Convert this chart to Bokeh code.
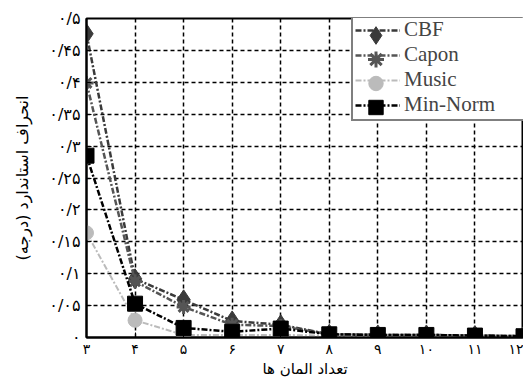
from bokeh.plotting import figure
from bokeh.models import FixedTicker, Range1d, Legend, LegendItem
from bokeh.embed import file_html
from bokeh.resources import INLINE

elements = [3, 4, 5, 6, 7, 8, 9, 10, 11, 12]
cbf = [0.476, 0.092, 0.059, 0.026, 0.020, 0.005, 0.004, 0.004, 0.003, 0.002]
capon = [0.399, 0.088, 0.048, 0.020, 0.018, 0.005, 0.004, 0.004, 0.003, 0.002]
music = [0.164, 0.027, 0.004, 0.004, 0.004, 0.003, 0.003, 0.003, 0.002, 0.002]
minnorm = [0.285, 0.053, 0.015, 0.009, 0.014, 0.005, 0.004, 0.004, 0.003, 0.002]
series_names = ["CBF", "Capon", "Music", "Min-Norm"]

x_ticks = [3, 4, 5, 6, 7, 8, 9, 10, 11, 12]
x_labels = ["۳", "۴", "۵", "۶", "۷", "۸", "۹", "۱۰", "۱۱", "۱۲"]
y_ticks = [0, 0.05, 0.1, 0.15, 0.2, 0.25, 0.3, 0.35, 0.4, 0.45, 0.5]
y_labels = ["۰", "۰/۰۵", "۰/۱", "۰/۱۵", "۰/۲", "۰/۲۵", "۰/۳", "۰/۳۵", "۰/۴", "۰/۴۵", "۰/۵"]

x_title = "تعداد المان ها"
y_title = "انحراف استاندارد (درجه)"

p = figure(width=523, height=380, output_backend="svg", toolbar_location=None,
           x_range=Range1d(3, 12), y_range=Range1d(0, 0.5),
           min_border_left=86, min_border_right=0, min_border_top=18, min_border_bottom=40)
p.background_fill_color = "white"
p.border_fill_color = "white"
p.outline_line_color = "black"
p.outline_line_width = 2

for ax in (p.xaxis[0], p.yaxis[0]):
    ax.axis_line_color = "black"
    ax.axis_line_width = 2
    ax.major_tick_in = 5
    ax.major_tick_out = 0
    ax.minor_tick_line_color = None
    ax.major_label_text_font = "DejaVu Sans"
    ax.major_label_text_color = "black"
    ax.axis_label_text_font = "DejaVu Sans"
    ax.axis_label_text_font_style = "normal"
    ax.axis_label_text_color = "black"

p.xaxis.major_label_text_font_size = "14px"
p.yaxis.major_label_text_font_size = "16px"
p.xaxis.axis_label_text_font_size = "15px"
p.yaxis.axis_label_text_font_size = "16px"
p.xaxis.ticker = FixedTicker(ticks=x_ticks)
p.xaxis.major_label_overrides = {t: l for t, l in zip(x_ticks, x_labels)}
p.yaxis.ticker = FixedTicker(ticks=y_ticks)
p.yaxis.major_label_overrides = {t: l for t, l in zip(y_ticks, y_labels)}
p.xaxis.axis_label = x_title
p.yaxis.axis_label = y_title
p.xaxis.major_label_standoff = 3
p.xaxis.axis_label_standoff = 0
p.yaxis.major_label_standoff = 6
p.yaxis.axis_label_standoff = 14

p.xgrid.grid_line_color = "black"
p.xgrid.grid_line_dash = "4 3"
p.xgrid.grid_line_width = 1.5
p.ygrid.grid_line_color = "black"
p.ygrid.grid_line_dash = "4 3"
p.ygrid.grid_line_width = 1.5

dash = "6 2 2 2"
lines = []
markers = []

lines.append(p.line(elements, cbf, line_color="#3a3a3a", line_width=2.5, line_dash=dash))
markers.append(p.scatter(elements, cbf, marker="diamond", size=20, fill_color="#3a3a3a", line_color="#3a3a3a"))

lines.append(p.line(elements, capon, line_color="#555555", line_width=2.5, line_dash=dash))
markers.append(p.scatter(elements, capon, marker="asterisk", size=14, line_color="#555555", line_width=3))

lines.append(p.line(elements, music, line_color="#bbbbbb", line_width=2, line_dash=dash))
markers.append(p.scatter(elements, music, marker="circle", size=14, fill_color="#bbbbbb", line_color="#bbbbbb"))

lines.append(p.line(elements, minnorm, line_color="black", line_width=2.5, line_dash=dash))
markers.append(p.scatter(elements, minnorm, marker="square", size=15, fill_color="black", line_color="black"))

# main legend: box, lines and labels
LX, LY, ROW, PAD = 265, 216, 24, 2
legend = Legend(items=[LegendItem(label=n, renderers=[r]) for n, r in zip(series_names, lines)],
                location=(LX, LY))
legend.border_line_color = "black"
legend.border_line_width = 2
legend.background_fill_alpha = 1
legend.label_text_font = "'Times New Roman', 'Liberation Serif', serif"
legend.label_text_font_size = "21px"
legend.glyph_width = 45
legend.glyph_height = ROW
legend.label_height = 20
legend.label_width = 130
legend.spacing = 0
legend.padding = PAD
legend.margin = 0
legend.label_standoff = 4
p.add_layout(legend)

# larger legend markers, overlaid on the main legend rows
marker_h = [44, 40, 36, 36]
top_offset = LY + 4 * ROW + 2 * PAD
for i, (m, h) in enumerate(zip(markers, marker_h)):
    cy = top_offset - PAD - ROW / 2 - ROW * i
    lg = Legend(items=[LegendItem(label=" ", renderers=[m])],
                location=(LX + PAD, int(round(cy - h / 2))))
    lg.border_line_color = None
    lg.background_fill_alpha = 0
    lg.glyph_width = 45
    lg.glyph_height = h
    lg.label_height = 1
    lg.label_width = 0
    lg.label_standoff = 0
    lg.label_text_font_size = "1px"
    lg.padding = 0
    lg.margin = 0
    lg.spacing = 0
    p.add_layout(lg)

open("out.html", "w").write(file_html(p, INLINE))
